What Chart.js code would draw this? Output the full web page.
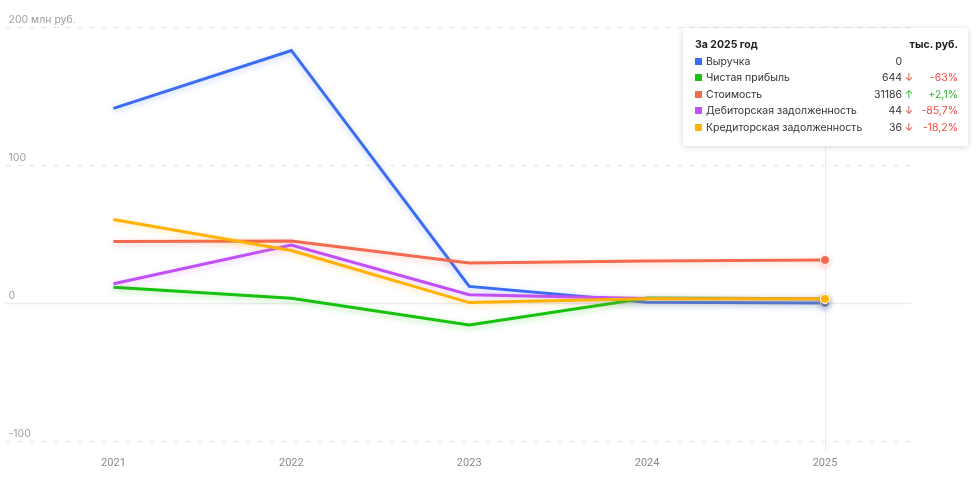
<!DOCTYPE html>
<html>
<head>
<meta charset="utf-8">
<script src="https://cdn.jsdelivr.net/npm/chart.js@4.4.0/dist/chart.umd.min.js"></script>
<style>
    html, body { margin: 0; padding: 0; background: #fff; }
    #wrap { position: relative; width: 976px; height: 483px; }
    #tip {
        position: absolute; left: 683px; top: 28px; width: 285px; height: 118px;
        box-sizing: border-box; padding: 9px 10px 0 12px;
        background: #fff; border-radius: 3px;
        box-shadow: 0 1px 6px rgba(0, 0, 0, 0.16);
        font-family: Inter, "Noto Sans", sans-serif; font-size: 10.5px; color: #333;
    }
    #tip .row { display: grid; grid-template-columns: 1fr auto 14px 42px; height: 16.5px; line-height: 16.5px; }
    #tip .head { grid-template-columns: 1fr auto; font-weight: 700; color: #222; }
    #tip .sq { display: inline-block; width: 7px; height: 7px; margin-right: 4px; vertical-align: 0; }
    #tip .v { text-align: right; }
    #tip .a { text-align: center; }
    #tip .p { text-align: right; }
    .down { color: #ef4a3e; }
    .up { color: #2eb82e; }
</style>
</head>
<body>
<div id="wrap">
    <canvas id="chart" width="976" height="483"></canvas>
    <div id="tip"></div>
</div>
<script>
document.addEventListener('DOMContentLoaded', function() {
    // годы и значения, млн руб.
    const years = [2021, 2022, 2023, 2024, 2025];
    const seriesNames = ['Выручка', 'Чистая прибыль', 'Стоимость', 'Дебиторская задолженность', 'Кредиторская задолженность'];
    const seriesColors = ['#3a6cf4', '#16c20e', '#f46a4e', '#c150f7', '#ffb300'];
    const revenue = [141, 183, 12, 0.5, 0];
    const netProfit = [11.5, 3.5, -16, 3.6, 3];
    const value = [44.5, 45, 29, 30.5, 31.2];
    const receivables = [14, 42, 6, 3.2, 3];
    const payables = [60.5, 38, 0.3, 3, 3];
    const yTicks = [-100, 0, 100, 200];

    // подсказка за 2025 год, тыс. руб.
    const tipValues = ['0', '644', '31186', '44', '36'];
    const tipArrows = ['', '↓', '↑', '↓', '↓'];
    const tipChanges = ['', '-63%', '+2,1%', '-85,7%', '-18,2%'];

    const allSeries = [revenue, netProfit, value, receivables, payables];
    const lastIdx = years.length - 1;

    const datasets = allSeries.map((vals, i) => ({
        label: seriesNames[i],
        data: vals.map((v, j) => ({ x: years[j], y: v })),
        borderColor: seriesColors[i],
        backgroundColor: seriesColors[i],
        borderWidth: 3,
        tension: 0,
        pointRadius: ctx => ctx.dataIndex === lastIdx ? 4.5 : 0,
        pointBorderWidth: 1,
        pointBorderColor: '#fff',
        order: allSeries.length - i
    }));

    // сетка и вертикальная линия наведения
    const gridPlugin = {
        id: 'gridLines',
        beforeDatasetsDraw(chart) {
            const c = chart.ctx;
            const area = chart.chartArea;
            const y = chart.scales.y;
            const x = chart.scales.x;
            c.save();
            yTicks.forEach(t => {
                const py = Math.round(y.getPixelForValue(t)) + 0.5;
                c.beginPath();
                if (t === 0) {
                    c.setLineDash([]);
                    c.strokeStyle = '#ececec';
                    c.lineWidth = 1.5;
                } else {
                    c.setLineDash([5, 7]);
                    c.strokeStyle = '#e3e3e3';
                    c.lineWidth = 1;
                }
                c.moveTo(area.left, py);
                c.lineTo(area.right - 4, py);
                c.stroke();
            });
            const px = Math.round(x.getPixelForValue(years[lastIdx])) + 0.5;
            c.setLineDash([]);
            c.strokeStyle = '#ececec';
            c.lineWidth = 1;
            c.beginPath();
            c.moveTo(px, area.top);
            c.lineTo(px, area.bottom + 11);
            c.stroke();
            c.restore();
        }
    };

    // мягкая тень под линиями
    const glowPlugin = {
        id: 'glow',
        beforeDatasetDraw(chart, args) {
            const c = chart.ctx;
            c.save();
            c.shadowColor = seriesColors[args.index] + '55';
            c.shadowBlur = 6;
            c.shadowOffsetY = 2;
        },
        afterDatasetDraw(chart) {
            chart.ctx.restore();
        }
    };

    new Chart(document.getElementById('chart').getContext('2d'), {
        type: 'line',
        data: { datasets: datasets },
        options: {
            responsive: false,
            animation: false,
            layout: { padding: { left: 5, right: 61, top: 27, bottom: 0 } },
            plugins: {
                legend: { display: false },
                tooltip: { enabled: false }
            },
            scales: {
                x: {
                    type: 'linear',
                    min: 2020.393,
                    max: 2025.506,
                    grid: { display: false },
                    border: { display: false },
                    afterFit: scale => { scale.height = 42; },
                    afterBuildTicks: scale => { scale.ticks = years.map(v => ({ value: v })); },
                    ticks: {
                        padding: 8,
                        color: '#8a8a8a',
                        font: { family: 'Roboto', size: 11 },
                        callback: v => String(v)
                    }
                },
                y: {
                    min: -100,
                    max: 200,
                    grid: { display: false },
                    border: { display: false },
                    afterFit: scale => { scale.width = 0; },
                    afterBuildTicks: scale => { scale.ticks = yTicks.map(v => ({ value: v })); },
                    ticks: {
                        mirror: true,
                        padding: 3,
                        labelOffset: -7,
                        color: '#a0a0a0',
                        font: { family: 'Inter', size: 10.5 },
                        callback: v => v === 200 ? '200 млн руб.' : String(v)
                    }
                }
            }
        },
        plugins: [gridPlugin, glowPlugin]
    });

    // таблица подсказки
    const tip = document.getElementById('tip');
    let html = '<div class="row head"><span>За 2025 год</span><span>тыс. руб.</span></div>';
    seriesNames.forEach((name, i) => {
        const cls = tipArrows[i] === '↑' ? 'up' : 'down';
        html += '<div class="row">' +
            '<span><i class="sq" style="background:' + seriesColors[i] + '"></i>' + name + '</span>' +
            '<span class="v">' + tipValues[i] + '</span>' +
            '<span class="a ' + cls + '">' + tipArrows[i] + '</span>' +
            '<span class="p ' + cls + '">' + tipChanges[i] + '</span>' +
            '</div>';
    });
    tip.innerHTML = html;
});
</script>
</body>
</html>
